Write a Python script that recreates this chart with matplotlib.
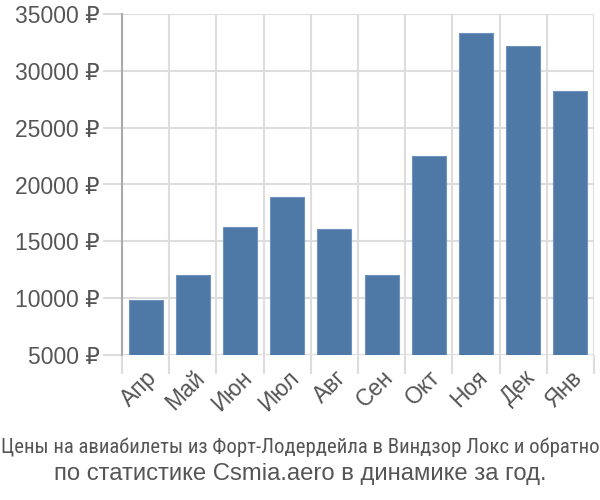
import numpy as np
import matplotlib.pyplot as plt
from matplotlib.transforms import ScaledTranslation

months = ["Апр", "Май", "Июн", "Июл", "Авг", "Сен", "Окт", "Ноя", "Дек", "Янв"]
prices = [9820, 12000, 16250, 18900, 16050, 12000, 22500, 33300, 32200, 28250]
yticks = [5000, 10000, 15000, 20000, 25000, 30000, 35000]
title1 = "Цены на авиабилеты из Форт-Лодердейла в Виндзор Локс и обратно"
title2 = "по статистике Csmia.aero в динамике за год."

plt.rcParams['font.family'] = ['Liberation Sans', 'DejaVu Sans']
grey = "#555555"
grid_c = "#dddddd"

fig = plt.figure(figsize=(6, 5), dpi=100)
ax = fig.add_axes([122/600, 1-355/500, 472/600, 341/500])

x = np.arange(len(months))
ax.bar(x, prices, width=0.72, color="#4e78a6", edgecolor="#6f93bd",
       linewidth=0.8, zorder=3)

ax.set_xlim(-0.5, len(months) - 0.5)
ax.set_ylim(5000, 35000)

ax.set_yticks(yticks)
ax.set_yticklabels([f"{v} ₽" for v in yticks], fontsize=16.5, color=grey)
ax.set_xticks(x)
ax.set_xticklabels(months, fontsize=16.5, color=grey, rotation=45,
                   ha="right", va="top", rotation_mode="anchor")
ax.set_xticks(np.arange(-0.5, len(months)), minor=True)

# nudge month labels a little to the left
shift = ScaledTranslation(-0.06, 0, fig.dpi_scale_trans)
for lab in ax.get_xticklabels():
    lab.set_transform(lab.get_transform() + shift)

ax.tick_params(axis="x", which="major", length=0, pad=8)
ax.tick_params(axis="x", which="minor", length=14, color=grid_c, width=1.5)
ax.tick_params(axis="y", length=14, color=grid_c, width=1.5, pad=2)

ax.grid(True, which="minor", axis="x", color=grid_c, linewidth=1.5, zorder=0)
ax.grid(True, which="major", axis="y", color=grid_c, linewidth=1.5, zorder=0)

for s in ["top", "right", "bottom"]:
    ax.spines[s].set_visible(False)
ax.spines["left"].set_color("#aaaaaa")
ax.spines["left"].set_linewidth(1.5)
ax.spines["left"].set_zorder(4)

# caption: first line is condensed so it fits the full width
t1 = fig.text(0.5, 1-447/500, title1, ha="center", va="center", fontsize=16,
              color=grey, family=["Roboto Condensed", "Liberation Sans"])
t2 = fig.text(0.5, 1-474/500, title2, ha="center", va="center", fontsize=16,
              color=grey)

r = fig.canvas.get_renderer()
w1 = t1.get_window_extent(r).width
t1.set_fontsize(16 * 598 / w1)
w2 = t2.get_window_extent(r).width
t2.set_fontsize(16 * 494 / w2)

fig.savefig("out.png", dpi=100)
